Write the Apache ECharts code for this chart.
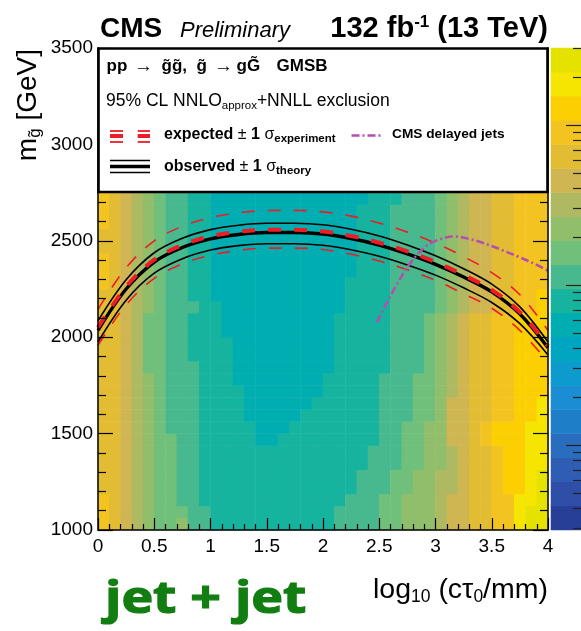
<!DOCTYPE html>
<html><head><meta charset="utf-8">
<script src="https://cdn.jsdelivr.net/npm/echarts@6/dist/echarts.min.js"></script>
<style>html,body{margin:0;padding:0;background:#fff}#c{width:581px;height:631px}</style>
</head><body><div id="c"></div>
<script>
// ---------- data ----------
const xTickLabels = ['0','0.5','1','1.5','2','2.5','3','3.5','4'];
const yTickLabels = ['1000','1500','2000','2500','3000','3500'];
// heatmap bins: 40 columns of 0.1 in log10(ctau), 40 rows of 62.5 GeV (rows above 2750 hidden by legend)
const colCats = ['0.05','0.15','0.25','0.35','0.45','0.55','0.65','0.75','0.85','0.95','1.05','1.15','1.25','1.35','1.45','1.55','1.65','1.75','1.85','1.95','2.05','2.15','2.25','2.35','2.45','2.55','2.65','2.75','2.85','2.95','3.05','3.15','3.25','3.35','3.45','3.55','3.65','3.75','3.85','3.95'];
const rowCats = ['1031','1094','1156','1219','1281','1344','1406','1469','1531','1594','1656','1719','1781','1844','1906','1969','2031','2094','2156','2219','2281','2344','2406','2469','2531','2594','2656','2719','2781','2844','2906','2969','3031','3094','3156','3219','3281','3344','3406','3469'];
// colour level (1 = dark blue ... 20 = yellow) of each cell, row 0 = lowest mass
const heatLevels = [
 [17,16,15,14,13,12,12,13,11,11,10,10,10,10,10,10,10,10,10,10,10,11,11,11,11,12,12,13,13,13,14,15,15,16,16,17,17,19,20,20],
 [17,16,15,14,13,12,12,12,11,11,10,10,10,10,10,10,10,10,10,10,10,11,11,11,11,12,12,13,13,13,14,15,15,16,16,17,17,19,20,20],
 [17,16,15,14,13,12,12,11,11,10,10,10,10,10,10,10,10,10,10,10,10,10,11,11,11,12,12,13,13,13,14,15,15,16,16,17,17,19,19,20],
 [16,16,15,14,13,12,12,11,11,10,10,10,10,10,10,10,10,10,10,10,10,10,10,11,11,11,12,12,13,13,14,14,15,16,16,17,18,18,19,20],
 [16,16,15,14,13,12,12,11,11,10,10,10,10,10,10,10,10,10,10,10,10,10,10,11,11,11,12,12,13,13,14,14,15,16,16,17,18,18,19,20],
 [16,16,15,14,13,12,12,11,11,10,10,10,10,10,10,10,10,10,10,10,10,10,10,10,11,11,11,12,12,13,13,14,15,16,16,17,18,18,19,19],
 [16,16,15,14,13,12,12,11,11,10,10,10,10,10,10,10,10,10,10,10,10,10,10,10,11,11,11,12,12,13,13,14,15,16,16,17,18,18,19,19],
 [16,16,15,14,13,12,12,11,11,10,10,10,10,10,9,9,10,10,10,10,10,10,10,10,10,11,11,12,12,13,13,15,15,16,17,18,18,18,19,19],
 [16,16,15,14,13,12,11,11,11,10,10,10,10,10,9,9,9,10,10,10,10,10,10,10,10,11,11,12,12,13,13,15,15,16,17,18,18,18,19,19],
 [16,16,15,14,13,12,11,11,11,10,10,10,10,9,9,9,9,9,10,10,10,10,10,10,10,11,11,11,12,12,13,15,15,16,16,17,17,18,18,19],
 [16,16,15,14,13,12,11,11,11,10,10,10,10,9,9,9,9,9,9,10,10,10,10,10,10,11,11,11,12,12,13,15,15,16,16,17,17,18,18,19],
 [16,16,15,14,13,12,11,11,11,10,10,10,10,9,9,9,9,9,9,9,10,10,10,10,10,11,11,11,12,12,13,14,15,16,16,17,17,18,18,18],
 [16,16,15,14,13,12,11,11,11,10,10,10,9,9,9,9,9,9,9,9,10,10,10,10,10,11,11,11,12,12,13,14,15,16,16,17,17,18,18,18],
 [16,16,15,14,12,12,11,11,11,10,10,10,9,9,9,9,9,9,9,9,9,10,10,10,10,10,11,11,11,12,13,14,15,16,16,17,17,18,18,18],
 [16,16,15,14,12,12,11,11,10,10,10,10,9,9,9,9,9,9,9,9,9,10,10,10,10,10,11,11,11,12,13,14,15,16,16,17,17,18,18,18],
 [16,16,15,14,12,12,11,11,10,10,10,10,9,9,9,9,9,9,9,9,9,10,10,10,10,10,11,11,11,12,13,14,15,16,16,17,17,18,18,18],
 [16,16,15,14,12,12,11,11,10,10,10,9,9,9,9,9,9,9,9,9,9,10,10,10,10,10,11,11,11,12,13,14,15,16,16,17,17,18,18,18],
 [16,16,15,14,12,12,11,11,10,10,10,9,9,9,9,9,9,9,9,9,9,10,10,10,10,10,11,11,11,12,13,14,15,16,16,17,17,18,18,18],
 [16,16,15,14,13,12,11,11,11,10,10,9,9,9,9,9,9,9,9,9,9,9,10,10,10,10,11,11,11,11,12,13,14,15,15,16,16,17,17,18],
 [16,16,15,14,13,12,11,11,10,10,9,9,9,9,9,9,9,9,9,9,9,9,10,10,10,10,11,11,11,11,12,13,14,15,15,16,16,17,17,18],
 [17,16,15,14,13,12,11,11,10,10,9,9,9,9,9,9,9,9,9,9,9,9,10,10,10,10,11,11,11,11,12,13,14,15,15,16,16,17,17,17],
 [17,16,15,14,13,12,11,11,10,10,9,9,9,9,9,9,9,9,9,9,9,9,9,10,10,10,11,11,11,11,12,13,14,15,15,16,16,17,17,17],
 [17,16,15,14,13,12,11,11,10,10,9,9,9,9,9,9,9,9,9,9,9,9,9,10,10,10,11,11,11,11,12,13,14,15,15,16,16,17,17,17],
 [16,16,15,14,13,12,11,11,10,10,9,9,9,9,9,9,9,9,9,9,9,9,9,10,10,10,11,11,11,11,12,13,14,15,15,16,16,17,17,17],
 [16,16,15,14,13,12,11,11,10,10,9,9,9,9,9,9,9,9,9,9,9,9,9,10,10,10,11,11,11,11,12,13,14,15,15,16,16,17,17,17],
 [17,16,15,14,13,12,11,11,10,10,9,9,9,9,9,9,9,9,9,9,9,9,9,10,10,10,11,11,11,11,12,13,14,15,15,16,16,17,17,17],
 [17,16,15,14,13,12,11,11,10,10,9,9,9,9,9,9,9,9,9,9,9,9,9,10,10,10,11,11,11,11,12,13,14,15,15,16,16,17,17,17],
 [17,16,15,14,13,12,11,11,10,10,9,9,9,9,9,9,9,9,9,9,9,9,9,9,10,10,10,11,11,11,12,13,14,15,15,16,16,17,17,17]
];
const levelValues = [1,2,3,4,5,6,7,8,9,10,11,12,13,14,15,16,17,18,19,20];
const levelColors = ['#283f98','#2f4ea8','#305db4','#2a6cbd','#1e7ec8','#1b8dd2','#0d9bcd','#00a5c2','#00adb1','#16b49f','#48b98e','#70c07b','#90be6b','#aeb961','#cfb653','#e2bd34','#f3c421','#fccf02','#f5e500','#e6e200'];
// colour-bar log ticks (log10 units)
const cbMajor = [0,1,2];
const cbMinor = [-0.523,-0.398,-0.301,-0.222,-0.155,-0.097,-0.046,0.301,0.477,0.602,0.699,0.778,0.845,0.903,0.954,1.301,1.477,1.602,1.699,1.778,1.845,1.903,1.954,2.301,2.477];
// exclusion contours
const curveX  = [0,0.25,0.5,0.75,1,1.25,1.5,1.75,2,2.25,2.5,2.75,3,3.25,3.5,3.75,4];
const obsMid  = [2035,2250,2390,2465,2510,2533,2543,2543,2535,2512,2478,2432,2378,2312,2235,2120,1945];
const obsUp   = [2085,2298,2438,2513,2558,2581,2591,2591,2583,2560,2525,2478,2422,2355,2275,2157,1975];
const obsDown = [1975,2192,2332,2407,2452,2475,2485,2485,2477,2454,2420,2375,2322,2256,2180,2070,1908];
const expMid  = [2050,2262,2402,2478,2523,2547,2557,2557,2548,2525,2490,2445,2390,2322,2245,2130,1955];
const expUp   = [2145,2360,2500,2575,2620,2645,2657,2658,2650,2628,2592,2545,2488,2418,2335,2220,2035];
const expDown = [1958,2168,2305,2380,2425,2450,2462,2462,2455,2430,2395,2350,2295,2225,2150,2035,1870];
const delayedX = [2.48,2.56,2.65,2.77,2.92,3.05,3.16,3.3,3.45,3.6,3.75,3.9,4.0];
const delayedY = [2077,2170,2267,2380,2474,2510,2522,2510,2483,2450,2414,2375,2345];

// ---------- chart ----------
const FONT = 'Liberation Sans, Arial, Helvetica, sans-serif';
const RED = '#ee1c25', MAG = '#b44fae';
const chart = echarts.init(document.getElementById('c'), null, {renderer:'canvas', width:581, height:631});
const heatData = [];
heatLevels.forEach((row, r) => row.forEach((v, c) => heatData.push([c, r, v])));
const barData = levelValues.map((v, i) => [0, i, v]);
const pairs = (xs, ys) => xs.map((x, i) => [x, ys[i]]);
const lineSeries = (ys, xs, color, width, type, z) => ({
  type:'line', xAxisIndex:0, yAxisIndex:0, data: pairs(xs, ys), smooth:0.35,
  symbol:'none', silent:true, clip:true, z:z, animation:false,
  lineStyle:{color:color, width:width, type:type}
});
const tickStyle = {color:'#000', width:1.2};
const txt = (x, y, s, font) => ({type:'text', x:x, y:y, z:101, style:{text:s, font:font, fill:'#000', align:'left', verticalAlign:'middle'}});

const option = {
  animation:false,
  grid:[{left:98, top:48, width:450, height:482}, {left:551, top:48, width:30, height:482}],
  xAxis:[
    {type:'value', gridIndex:0, position:'bottom', min:0, max:4, interval:0.5, z:5,
     axisLine:{show:true, onZero:false, lineStyle:{color:'#000', width:1.5}},
     axisTick:{show:true, inside:true, length:12, lineStyle:tickStyle},
     minorTick:{show:true, splitNumber:5, length:6, lineStyle:tickStyle},
     axisLabel:{fontFamily:FONT, fontSize:19, color:'#000', margin:7,
       formatter:(v)=>xTickLabels[Math.round(v/0.5)]},
     splitLine:{show:false}},
    {type:'category', gridIndex:0, data:colCats, show:false, boundaryGap:true},
    {type:'category', gridIndex:1, data:['bar'], show:false, boundaryGap:true}
  ],
  yAxis:[
    {type:'value', gridIndex:0, position:'left', min:1000, max:3500, interval:500, z:5,
     axisLine:{show:true, onZero:false, lineStyle:{color:'#000', width:1.5}},
     axisTick:{show:true, inside:true, length:15, lineStyle:tickStyle},
     minorTick:{show:true, splitNumber:5, length:8, lineStyle:tickStyle},
     axisLabel:{fontFamily:FONT, fontSize:19, color:'#000', margin:5,
       formatter:(v)=>yTickLabels[Math.round((v-1000)/500)]},
     splitLine:{show:false}},
    {type:'category', gridIndex:0, data:rowCats, show:false, boundaryGap:true},
    {type:'value', gridIndex:0, position:'right', min:1000, max:3500, interval:500, z:5,
     axisLine:{show:true, onZero:false, lineStyle:{color:'#000', width:1.5}},
     axisTick:{show:true, inside:true, length:15, lineStyle:tickStyle},
     minorTick:{show:true, splitNumber:5, length:8, lineStyle:tickStyle},
     axisLabel:{show:false}, splitLine:{show:false}},
    {type:'category', gridIndex:1, data:levelValues.map(String), show:false, boundaryGap:true},
    {type:'value', gridIndex:1, position:'right', min:-0.531, max:2.481, z:5,
     axisLine:{show:false}, axisLabel:{show:false}, splitLine:{show:false},
     axisTick:{show:true, inside:true, length:15, customValues:cbMajor, lineStyle:{color:'#222', width:1.2}}},
    {type:'value', gridIndex:1, position:'right', min:-0.531, max:2.481, z:5,
     axisLine:{show:false}, axisLabel:{show:false}, splitLine:{show:false},
     axisTick:{show:true, inside:true, length:8, customValues:cbMinor, lineStyle:{color:'#222', width:1.2}}}
  ],
  visualMap:[{
    type:'piecewise', show:false, seriesIndex:[0,1], dimension:2,
    pieces: levelValues.map((v, i) => ({value:v, color:levelColors[i]}))
  }],
  series:[
    {type:'heatmap', xAxisIndex:1, yAxisIndex:1, data:heatData, z:1, silent:true, progressive:0,
     emphasis:{disabled:true}, itemStyle:{borderWidth:0}},
    {type:'heatmap', xAxisIndex:2, yAxisIndex:3, data:barData, z:1, silent:true, progressive:0,
     emphasis:{disabled:true}, itemStyle:{borderWidth:0}},
    lineSeries(expUp, curveX, RED, 1.6, [13,13], 2),
    lineSeries(expDown, curveX, RED, 1.6, [13,13], 2),
    lineSeries(obsUp, curveX, '#000', 1.6, 'solid', 3),
    lineSeries(obsDown, curveX, '#000', 1.6, 'solid', 3),
    lineSeries(obsMid, curveX, '#000', 3.4, 'solid', 3),
    lineSeries(expMid, curveX, RED, 4, [13,13], 4),
    lineSeries(delayedY, delayedX, MAG, 2.6, [8,3,2,3], 4)
  ],
  graphic:[
    {type:'text', x:100, y:29, z:100, style:{text:'CMS', font:'bold 28px '+FONT, fill:'#000', align:'left', verticalAlign:'middle'}},
    {type:'text', x:180, y:31, z:100, style:{text:'Preliminary', font:'italic 22px '+FONT, fill:'#000', align:'left', verticalAlign:'middle'}},
    {type:'text', x:548, y:29, z:100, style:{text:'{b|132 fb}{sup|-1}{b| (13 TeV)}', align:'right', verticalAlign:'middle', fill:'#000',
      rich:{b:{fontFamily:FONT, fontWeight:'bold', fontSize:29, fill:'#000'}, sup:{fontFamily:FONT, fontWeight:'bold', fontSize:17, padding:[0,0,13,0], fill:'#000'}}}},
    // y axis title
    {type:'text', x:28, y:49, rotation:Math.PI/2, z:100, style:{text:'{a|m}{s|g\u0303}{a| [GeV]}', align:'right', verticalAlign:'middle',
      rich:{a:{fontFamily:FONT, fontSize:28, fill:'#000'}, s:{fontFamily:FONT, fontSize:17, padding:[14,0,0,0], fill:'#000'}}}},
    // x axis title
    {type:'text', x:548, y:590, z:100, style:{text:'{a|log}{s|10}{a| (c\u03c4}{s|0}{a|/mm)}', align:'right', verticalAlign:'middle',
      rich:{a:{fontFamily:FONT, fontSize:28.5, fill:'#000'}, s:{fontFamily:FONT, fontSize:17.5, padding:[14,0,0,0], fill:'#000'}}}},
    // jet + jet
    {type:'text', x:105, y:600, scaleX:1.22, z:100, style:{text:'jet + jet', font:'bold 44px Open Sans', fill:'#127e12', stroke:'#127e12', lineWidth:1.2, align:'left', verticalAlign:'middle'}},
    // legend box
    {type:'rect', z:100, shape:{x:98.5, y:48.5, width:449, height:143.5}, style:{fill:'#fff', stroke:'#000', lineWidth:2.6}},
    txt(106.5, 66.5, 'pp', 'bold 17px '+FONT),
    txt(134, 66.5, '\u2192', '19px '+FONT),
    txt(161.5, 66.5, 'g\u0303g\u0303,', 'bold 17px '+FONT),
    txt(196.5, 66.5, 'g\u0303', 'bold 17px '+FONT),
    txt(214, 66.5, '\u2192', '19px '+FONT),
    txt(236.5, 66.5, 'gG\u0303', 'bold 17px '+FONT),
    txt(276.5, 66.5, 'GMSB', 'bold 17px '+FONT),
    {type:'text', x:106, y:101.5, z:101, style:{text:'{a|95% CL NNLO}{s|approx}{a|+NNLL exclusion}', align:'left', verticalAlign:'middle',
      rich:{a:{fontFamily:FONT, fontSize:17.5, fill:'#000'}, s:{fontFamily:FONT, fontSize:11.5, padding:[9,0,0,0], fill:'#000'}}}},
    {type:'text', x:164, y:134.7, z:101, style:{text:'{b|expected }{n|\u00b1 }{b|1 }{n|\u03c3}{s|experiment}', align:'left', verticalAlign:'middle',
      rich:{b:{fontFamily:FONT, fontWeight:'bold', fontSize:16, fill:'#000'}, n:{fontFamily:FONT, fontSize:16, fill:'#000'}, s:{fontFamily:FONT, fontWeight:'bold', fontSize:11.5, padding:[9,0,0,0], fill:'#000'}}}},
    txt(392, 133.8, 'CMS delayed jets', 'bold 13.7px '+FONT),
    {type:'text', x:164, y:166.4, z:101, style:{text:'{b|observed }{n|\u00b1 }{b|1 }{n|\u03c3}{s|theory}', align:'left', verticalAlign:'middle',
      rich:{b:{fontFamily:FONT, fontWeight:'bold', fontSize:16, fill:'#000'}, n:{fontFamily:FONT, fontSize:16, fill:'#000'}, s:{fontFamily:FONT, fontWeight:'bold', fontSize:11.5, padding:[9,0,0,0], fill:'#000'}}}},
    // legend icons
    {type:'line', z:101, shape:{x1:110, y1:131, x2:123, y2:131}, style:{stroke:RED, lineWidth:1.8}},
    {type:'line', z:101, shape:{x1:137.7, y1:131, x2:150, y2:131}, style:{stroke:RED, lineWidth:1.8}},
    {type:'line', z:101, shape:{x1:110, y1:136, x2:123, y2:136}, style:{stroke:RED, lineWidth:4}},
    {type:'line', z:101, shape:{x1:137.7, y1:136, x2:150, y2:136}, style:{stroke:RED, lineWidth:4}},
    {type:'line', z:101, shape:{x1:110, y1:142, x2:123, y2:142}, style:{stroke:RED, lineWidth:1.8}},
    {type:'line', z:101, shape:{x1:137.7, y1:142, x2:150, y2:142}, style:{stroke:RED, lineWidth:1.8}},
    {type:'line', z:101, shape:{x1:351.5, y1:135.5, x2:383.5, y2:135.5}, style:{stroke:MAG, lineWidth:2.6, lineDash:[8,3,2,3]}},
    {type:'line', z:101, shape:{x1:110, y1:160.5, x2:150, y2:160.5}, style:{stroke:'#000', lineWidth:1.6}},
    {type:'line', z:101, shape:{x1:110, y1:166.5, x2:150, y2:166.5}, style:{stroke:'#000', lineWidth:3.6}},
    {type:'line', z:101, shape:{x1:110, y1:172.5, x2:150, y2:172.5}, style:{stroke:'#000', lineWidth:1.6}}
  ]
};
chart.setOption(option);
</script></body></html>
